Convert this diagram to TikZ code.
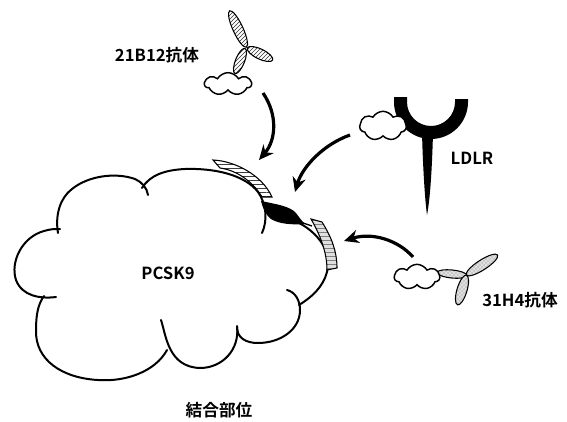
\documentclass[tikz,border=0pt]{standalone}
\usepackage{fontspec}
\usepackage{tikz}
\usetikzlibrary{arrows.meta,patterns,shapes.symbols}
\newfontfamily\cjk{Noto Sans CJK JP}[BoldFont={Noto Sans CJK JP Bold}]

\tikzset{
  lbl/.style={font=\cjk\bfseries\fontsize{12.5}{15}\selectfont, inner sep=0.75pt},
  outline/.style={line width=1.5pt, line cap=round},
  minicloud/.style={cloud, cloud puffs=7, cloud puff arc=120, draw, line width=1.1pt,
    inner sep=0pt, fill=white},
  bindarrow/.style={line width=2.4pt, -{Stealth[length=11pt,width=10pt]}},
  stripes/.style={draw, line width=0.8pt, pattern=horizontal lines, pattern color=black!75},
  greysite/.style={draw, line width=0.8pt, preaction={fill=gray!25}, pattern=horizontal lines, pattern color=gray},
  hatcharm/.style={draw, line width=0.8pt, preaction={fill=white}, pattern=north east lines, pattern color=black!80},
  greyarm/.style={draw, line width=0.8pt, preaction={fill=gray!25}, pattern=crosshatch dots, pattern color=gray}
}

\begin{document}
\begin{tikzpicture}[x=0.75pt,y=0.75pt,yscale=-1,xscale=1]
\useasboundingbox (0,0) rectangle (567,421);

% PCSK9 cloud, one lobe at a time
\draw[outline] (58,233) .. controls (55,215) and (60,198) .. (72,189) .. controls (88,176) and (115,172) .. (135,179) .. controls (142,182) and (147,188) .. (148,195) ;

\draw[outline] (142,188) .. controls (150,175) and (165,170) .. (185,169) .. controls (215,168) and (245,175) .. (258,192) .. controls (266,203) and (268,220) .. (262,233) ;

\draw[outline] (290,219) .. controls (315,228) and (333,250) .. (327,272) .. controls (323,287) and (312,297) .. (299,305) ;

\draw[outline] (287,290) .. controls (295,292) and (300,300) .. (300,310) .. controls (300,330) and (280,343) .. (258,343) .. controls (246,343) and (237,338) .. (237,327) ;

\draw[outline] (161,320) .. controls (166,335) and (168,367) .. (200,368) .. controls (222,368) and (240,350) .. (237,326) ;

\draw[outline] (167,350) .. controls (155,372) and (125,382) .. (98,380) .. controls (62,378) and (35,360) .. (36,330) .. controls (36,315) and (38,304) .. (44,296) ;

\draw[outline] (56,297) .. controls (40,299) and (22,296) .. (16,280) .. controls (10,262) and (22,237) .. (44,231) .. controls (50,229) and (55,229) .. (60,229) ;

% binding sites
\draw[stripes] (213,160) .. controls (235,161) and (262,175) .. (272,197) -- (262,197) .. controls (252,180) and (235,170) .. (220,168) -- cycle ;

\fill (261,201) .. controls (275,204) and (290,206) .. (296,213) .. controls (299,217) and (301,220) .. (305,224) .. controls (292,225) and (279,224) .. (271,219) .. controls (266,215) and (263,209) .. (261,201) -- cycle ;
\draw[line width=1pt] (303,223) -- (312,226) ;

\draw[greysite] (311,219) -- (322,222) .. controls (332,238) and (337,252) .. (337,268) -- (327,270) .. controls (327,255) and (322,238) .. (311,219) -- cycle ;

% 21B12 antibody
\draw[hatcharm, rotate around={65.3:(238,29)}] (238,29) ellipse (20 and 5) ;
\draw[hatcharm, rotate around={25.6:(260,54)}] (260,54) ellipse (14 and 5) ;
\draw[hatcharm, rotate around={111.8:(240,61)}] (240,61) ellipse (13.5 and 4.5) ;
\node[minicloud, minimum width=35pt, minimum height=17pt] (c21) at (228,84) {};

% LDLR
\fill (394,97) -- (394,102) arc[start angle=180, end angle=0, radius=37] -- (468,99) -- (455,99) -- (455,102) arc[start angle=0, end angle=180, radius=24] -- (407,97) -- cycle ;
\fill (422,133) .. controls (423,170) and (425,200) .. (427,215) .. controls (430,200) and (432,170) .. (433,133) -- cycle ;
\node[minicloud, minimum width=35pt, minimum height=22pt] (cLD) at (383,126) {};

% 31H4 antibody
\draw[greyarm, rotate around={5.7:(452,274)}] (452,274) ellipse (15 and 4) ;
\draw[greyarm, rotate around={-32.8:(482,265)}] (482,265) ellipse (18.5 and 5) ;
\draw[greyarm, rotate around={106.7:(462,290)}] (462,290) ellipse (15.5 and 5) ;
\node[minicloud, minimum width=34pt, minimum height=19pt] (c31) at (417,277) {};

% labels
\node[lbl] (t21) at (157,55) {21B12抗体};
\node[lbl] (tLD) at (472,158) {LDLR};
\node[lbl] (tPC) at (168,273) {PCSK9};
\node[lbl] (t31) at (520,300) {31H4抗体};
\node[lbl] (tsite) at (219,410) {結合部位};

% arrows
\coordinate (a21s) at (263,93);
\coordinate (a21e) at (259,160);
\coordinate (aLDs) at (350,135);
\coordinate (aLDe) at (295,192);
\coordinate (a31s) at (413,257);
\coordinate (a31e) at (344,241);
\draw[bindarrow] (a21s) .. controls (278,115) and (276,140) .. (a21e) ;
\draw[bindarrow] (aLDs) .. controls (322,145) and (302,168) .. (aLDe) ;
\draw[bindarrow] (a31s) .. controls (398,240) and (372,232) .. (a31e) ;

\end{tikzpicture}
\end{document}
